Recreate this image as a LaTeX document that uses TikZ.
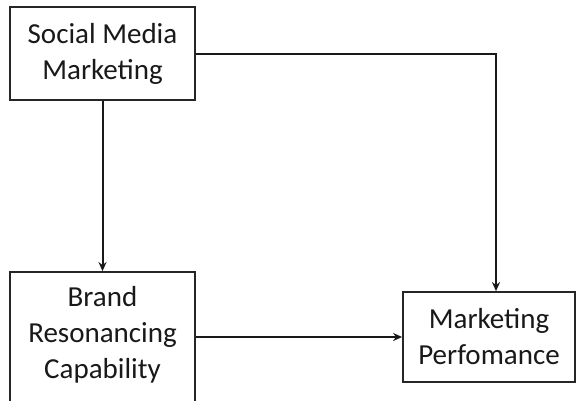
\documentclass[tikz,border=0pt]{standalone}
\usepackage{fontspec}
\setmainfont{Carlito}
\usetikzlibrary{arrows.meta,calc}
\begin{document}
\begin{tikzpicture}[x=1pt,y=1pt,
  box/.style={draw=black!85, line width=1.8pt, fill=white, inner sep=0pt},
  lbl/.style={align=center, font=\fontsize{29}{36}\selectfont, text=black!90, inner sep=0pt},
  conn/.style={line width=2pt, draw=black!90, -{Stealth[length=9pt,width=8pt]}}]
\useasboundingbox (0,0) rectangle (577,-400);
\node[box, minimum width=185pt, minimum height=93pt] (smm) at (102.5,-53.5) {};
\node[lbl] (smmt) at (smm.center) {Social Media\\Marketing};
\node[box, minimum width=185pt, minimum height=140pt] (br) at (102.5,-342) {};
\node[lbl] (brt) at (102.5,-335) {Brand\\Resonancing\\Capability};
\node[box, minimum width=172pt, minimum height=90pt] (mp) at (489,-337) {};
\node[lbl] (mpt) at (mp.center) {Marketing\\Perfomance};
\draw[conn] (smm.south) -- (br.north);
\draw[conn] (smm.east) -| ([xshift=7pt]mp.north);
\draw[conn] (br.east |- mp.west) -- (mp.west);
\end{tikzpicture}
\end{document}
